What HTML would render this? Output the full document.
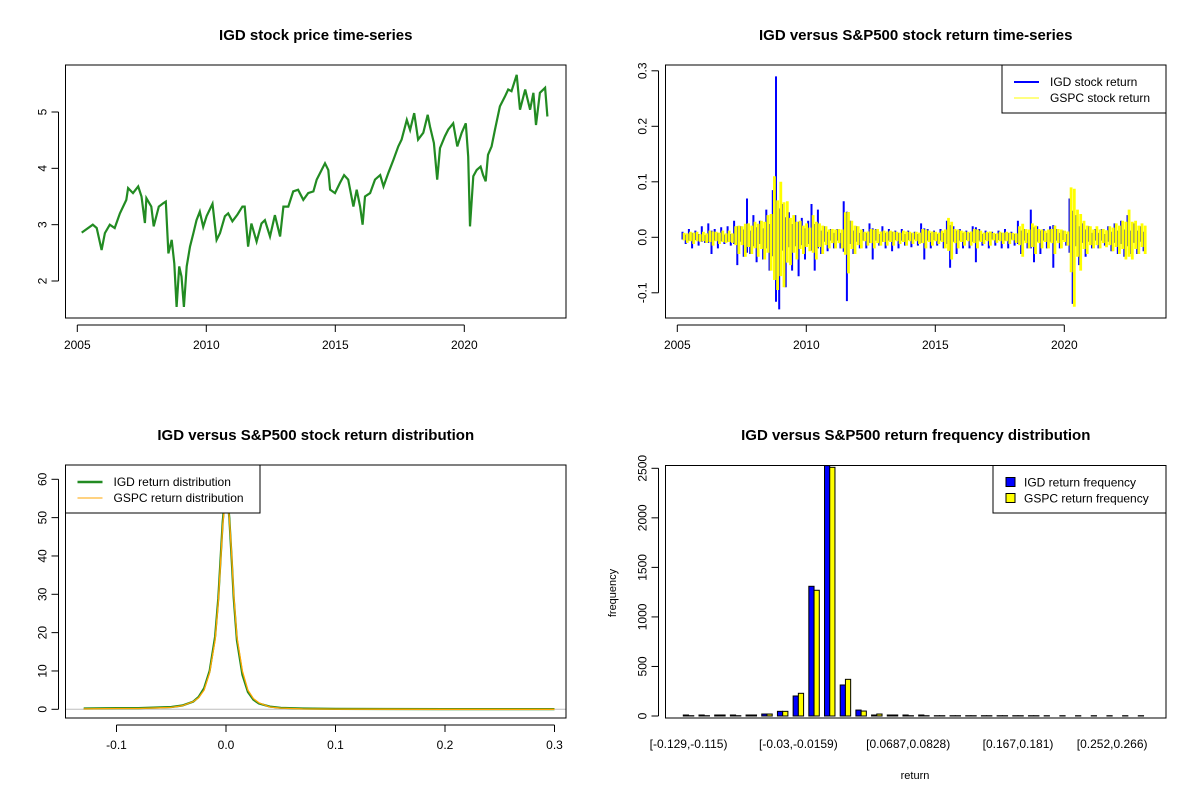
<!DOCTYPE html>
<html><head><meta charset="utf-8"><style>
body{margin:0;background:#fff}
svg{display:block;font-family:"Liberation Sans",Arial,sans-serif}
</style></head><body>
<svg id="c" width="1200" height="800" viewBox="0 0 1200 800"></svg>
<script>
// ---------- data ----------
const priceYears=[2005.17,2005.6,2005.75,2005.94,2006.07,2006.26,2006.45,2006.65,2006.9,2006.97,2007.16,2007.36,2007.49,2007.62,2007.68,2007.87,2007.96,2008.16,2008.33,2008.43,2008.53,2008.66,2008.76,2008.85,2008.95,2009.04,2009.13,2009.24,2009.37,2009.5,2009.62,2009.75,2009.88,2010.01,2010.24,2010.4,2010.53,2010.72,2010.85,2011.01,2011.21,2011.4,2011.49,2011.62,2011.75,2011.95,2012.14,2012.27,2012.47,2012.66,2012.86,2012.99,2013.18,2013.37,2013.56,2013.76,2013.95,2014.15,2014.28,2014.47,2014.6,2014.73,2014.8,2014.99,2015.18,2015.34,2015.5,2015.7,2015.83,2015.96,2016.06,2016.15,2016.35,2016.54,2016.74,2016.87,2017.06,2017.25,2017.44,2017.57,2017.77,2017.9,2018.06,2018.21,2018.41,2018.58,2018.67,2018.82,2018.95,2019.06,2019.25,2019.38,2019.57,2019.73,2019.9,2020.06,2020.15,2020.22,2020.35,2020.48,2020.63,2020.73,2020.83,2020.92,2021.06,2021.19,2021.38,2021.57,2021.7,2021.83,2022.03,2022.16,2022.36,2022.55,2022.68,2022.78,2022.93,2023.13,2023.22];
const priceValues=[2.86,3.0,2.94,2.55,2.85,3.0,2.94,3.2,3.44,3.65,3.56,3.68,3.5,3.03,3.47,3.32,2.97,3.32,3.38,3.41,2.49,2.73,2.31,1.54,2.26,2.08,1.54,2.26,2.61,2.85,3.08,3.23,2.96,3.15,3.37,2.73,2.85,3.15,3.2,3.06,3.18,3.32,3.32,2.61,3.02,2.7,3.02,3.08,2.79,3.17,2.79,3.32,3.32,3.59,3.62,3.44,3.56,3.59,3.8,3.97,4.09,3.97,3.62,3.56,3.74,3.88,3.8,3.32,3.62,3.32,3.0,3.5,3.56,3.8,3.88,3.68,3.92,4.15,4.39,4.51,4.86,4.68,4.98,4.51,4.63,4.95,4.74,4.45,3.8,4.36,4.57,4.69,4.8,4.39,4.63,4.8,4.21,2.97,3.86,3.97,4.03,3.88,3.77,4.24,4.39,4.69,5.1,5.27,5.4,5.37,5.66,5.04,5.4,5.04,5.34,4.77,5.34,5.43,4.92];
const retStart=2005.2, retStep=0.125;
const igdReturns=[0.01,-0.012,0.015,-0.02,0.012,-0.015,0.02,-0.01,
0.025,-0.03,0.015,-0.02,0.018,-0.012,0.02,-0.015,
0.03,-0.05,0.02,-0.035,0.07,-0.03,0.04,-0.045,
0.03,-0.04,0.05,-0.06,0.085,0.29,-0.13,0.06,
-0.09,0.045,-0.06,0.04,-0.07,0.035,-0.04,0.03,
0.06,-0.06,0.05,-0.03,0.02,-0.025,0.015,-0.02,
0.015,-0.02,0.065,-0.115,0.03,-0.03,0.02,-0.02,
0.015,-0.02,0.025,-0.04,0.015,-0.015,0.02,-0.02,
0.015,-0.025,0.012,-0.02,0.015,-0.015,0.012,-0.018,
0.01,-0.015,0.025,-0.04,0.015,-0.02,0.012,-0.015,
0.015,-0.02,0.03,-0.055,0.02,-0.03,0.015,-0.02,
0.012,-0.02,0.02,-0.045,0.015,-0.015,0.012,-0.02,
0.01,-0.015,0.012,-0.02,0.015,-0.02,0.01,-0.015,
0.03,-0.03,0.015,-0.02,0.05,-0.045,0.02,-0.03,
0.015,-0.02,0.02,-0.055,0.015,-0.02,0.012,-0.015,
0.07,-0.12,0.04,-0.05,0.025,-0.035,0.02,-0.02,
0.015,-0.02,0.015,-0.015,0.02,-0.025,0.025,-0.03,
0.03,-0.035,0.04,-0.03,0.025,-0.03,0.02,-0.025];
const gspcReturns=[0.008,-0.01,0.01,-0.012,0.01,-0.008,0.01,-0.01,
0.012,-0.015,0.01,-0.012,0.012,-0.01,0.012,-0.01,
0.02,-0.03,0.02,-0.035,0.025,-0.03,0.028,-0.035,
0.03,-0.04,0.04,-0.06,0.11,-0.095,0.1,-0.09,
0.065,-0.05,0.04,-0.04,0.03,-0.03,0.025,-0.025,
0.04,-0.04,0.025,-0.03,0.02,-0.02,0.015,-0.02,
0.015,-0.02,0.045,-0.065,0.03,-0.03,0.02,-0.02,
0.01,-0.015,0.015,-0.02,0.015,-0.015,0.012,-0.015,
0.012,-0.015,0.01,-0.012,0.012,-0.015,0.01,-0.012,
0.01,-0.012,0.015,-0.02,0.012,-0.015,0.01,-0.012,
0.012,-0.02,0.035,-0.04,0.015,-0.02,0.012,-0.015,
0.01,-0.015,0.015,-0.02,0.012,-0.012,0.01,-0.015,
0.008,-0.01,0.01,-0.012,0.01,-0.012,0.008,-0.01,
0.02,-0.035,0.015,-0.02,0.025,-0.03,0.015,-0.02,
0.012,-0.02,0.015,-0.03,0.015,-0.02,0.012,-0.015,
0.09,-0.125,0.05,-0.06,0.03,-0.03,0.02,-0.02,
0.02,-0.02,0.015,-0.018,0.02,-0.025,0.025,-0.03,
0.03,-0.04,0.05,-0.04,0.03,-0.03,0.025,-0.03];
const densX=[-0.13,-0.1,-0.08,-0.06,-0.05,-0.04,-0.03,-0.025,-0.02,-0.015,-0.01,-0.007,-0.005,-0.003,-0.001,0.001,0.003,0.005,0.007,0.01,0.015,0.02,0.025,0.03,0.04,0.05,0.07,0.1,0.2,0.3];
const igdDens=[0.2,0.3,0.3,0.5,0.6,1.0,2.0,3.2,5.5,10,19,29,39,49,55,56,50,40,29,18,9,4.5,2.5,1.5,0.7,0.4,0.2,0.1,0.05,0.05];
const gspcDens=[0.1,0.2,0.2,0.4,0.5,0.9,2.0,3.0,5.0,9.5,18,28,38,48,54,55,50,41,30,19,10,5,2.8,1.7,0.6,0.3,0.1,0.05,0,0];
const binLabels=["[-0.129,-0.115)","[-0.115,-0.101)","[-0.101,-0.0866)","[-0.0866,-0.0725)","[-0.0725,-0.0584)","[-0.0584,-0.0442)","[-0.0442,-0.03)","[-0.03,-0.0159)","[-0.0159,-0.00176)","[-0.00176,0.0124)","[0.0124,0.0265)","[0.0265,0.0406)","[0.0406,0.0547)","[0.0547,0.0687)","[0.0687,0.0828)","[0.0828,0.0969)","[0.0969,0.111)","[0.111,0.125)","[0.125,0.139)","[0.139,0.153)","[0.153,0.167)","[0.167,0.181)","[0.181,0.195)","[0.195,0.21)","[0.21,0.224)","[0.224,0.238)","[0.238,0.252)","[0.252,0.266)","[0.266,0.28)","[0.28,0.294]"];
const igdFreq=[10,10,10,10,10,20,47,202,1309,2527,313,60,10,10,10,10,3,3,3,3,3,3,3,3,3,3,3,3,3,3];
const gspcFreq=[3,3,10,3,10,20,47,229,1269,2510,370,50,20,10,3,3,3,3,3,3,3,3,3,0,0,0,0,0,0,0];
const shownLabels=[0,7,14,21,27];

// ---------- helpers ----------
const NS="http://www.w3.org/2000/svg", svg=document.getElementById('c');
function el(tag,at,parent){const e=document.createElementNS(NS,tag);for(const k in at)e.setAttribute(k,at[k]);(parent||svg).appendChild(e);return e;}
function txt(s,at,parent){const t=el('text',at,parent);t.textContent=s;return t;}
function lin(a,b,c,d){return (v)=>c+(v-a)*(d-c)/(b-a);}
const TF="12px";

function panel(name,box,title,titleY){
  const g=el('g',{});
  
  
  const t=txt(title,{x:(box[0]+box[2])/2,y:titleY,'text-anchor':'middle','font-size':'15px','font-weight':'bold'},g);
  
  
  return g;
}
function frame(g,box){
  const r=el('rect',{x:box[0],y:box[1],width:box[2]-box[0],height:box[3]-box[1],fill:'none',stroke:'#000','stroke-width':1},g);
  
  
}
function yAxis(g,box,ticks,labels,sy){
  const ax=el('g',{},g);
  
  
  el('line',{x1:box[0]-7,x2:box[0]-7,y1:sy(ticks[0]),y2:sy(ticks[ticks.length-1]),stroke:'#000'},ax);
  ticks.forEach((v,i)=>{
    const y=sy(v);
    el('line',{x1:box[0]-7,x2:box[0]-14,y1:y,y2:y,stroke:'#000'},ax);
    const t=txt(labels[i],{x:box[0]-19,y:y,'text-anchor':'middle','font-size':TF,transform:`rotate(-90 ${box[0]-19} ${y})`},ax);
    
    
  });
}
function xAxis(g,box,ticks,labels,sx){
  const ax=el('g',{},g);
  
  
  const y0=box[3]+7;
  el('line',{x1:sx(ticks[0]),x2:sx(ticks[ticks.length-1]),y1:y0,y2:y0,stroke:'#000'},ax);
  ticks.forEach((v,i)=>{
    const x=sx(v);
    el('line',{x1:x,x2:x,y1:y0,y2:y0+7,stroke:'#000'},ax);
    const t=txt(labels[i],{x:x,y:y0+24,'text-anchor':'middle','font-size':TF},ax);
    
    
  });
}
function legend(g,box,items){
  const lg=el('g',{},g);
  
  
  el('rect',{x:box[0],y:box[1],width:box[2]-box[0],height:box[3]-box[1],fill:'#fff',stroke:'#000'},lg);
  items.forEach((it,i)=>{
    const y=box[1]+17+i*16;
    const e=el('g',{},lg);
    
    
    if(it.sq) el('rect',{x:box[0]+13,y:y-5,width:9,height:9,fill:it.color,stroke:'#000'},e);
    else el('line',{x1:box[0]+12,x2:box[0]+37,y1:y,y2:y,stroke:it.color,'stroke-width':it.w},e);
    txt(it.label,{x:box[0]+(it.sq?31:48),y:y+4,'font-size':TF},e);
  });
}

// ---------- panel 1: price ----------
{
  const box=[65.5,65,566,318];
  const g=panel('price-panel',box,'IGD stock price time-series',40);
  const sx=lin(2005,2010,77.3,206.3), sy=lin(2,5,281,112);
  const pts=priceYears.map((v,i)=>sx(v).toFixed(1)+','+sy(priceValues[i]).toFixed(1)).join(' ');
  const p=el('polyline',{points:pts,fill:'none',stroke:'#228b22','stroke-width':2.2,'stroke-linejoin':'miter'},g);
  
  
  frame(g,box);
  yAxis(g,box,[2,3,4,5],['2','3','4','5'],sy);
  xAxis(g,box,[2005,2010,2015,2020],['2005','2010','2015','2020'],sx);
}
// ---------- panel 2: returns ----------
{
  const box=[665.5,65,1166,318];
  const g=panel('returns-panel',box,'IGD versus S&P500 stock return time-series',40);
  const sx=lin(2005,2010,677.3,806.3), sy=lin(0,0.1,237.3,181.8);
  const spikes=(arr,off,k)=>{
    let d='';
    arr.forEach((v,i)=>{
      const x=(sx(retStart+i*retStep)+off).toFixed(1);
      d+=`M${x},${sy(-v*k).toFixed(1)}V${sy(v).toFixed(1)}`;
    });
    return d;
  };
  const b=el('path',{d:spikes(igdReturns,0,0.4),fill:'none',stroke:'#0000ff','stroke-width':2},g);
  
  
  const yl=el('path',{d:spikes(gspcReturns,1.6,0.7),fill:'none',stroke:'#ffff00','stroke-width':2.8},g);
  
  
  frame(g,box);
  yAxis(g,box,[-0.1,0,0.1,0.2,0.3],['-0.1','0.0','0.1','0.2','0.3'],sy);
  xAxis(g,box,[2005,2010,2015,2020],['2005','2010','2015','2020'],sx);
  legend(g,[1002,65,1166,113],[{label:'IGD stock return',color:'#0000ff',w:2},{label:'GSPC stock return',color:'#ffff00',w:1}]);
}
// ---------- panel 3: density ----------
{
  const box=[65.5,465,566,718];
  const g=panel('density-panel',box,'IGD versus S&P500 stock return distribution',440);
  const sx=lin(0,0.1,226,335.5), sy=lin(0,60,709.3,479.3);
  const base=el('line',{x1:box[0],x2:box[2],y1:sy(0),y2:sy(0),stroke:'#bebebe'},g);
  
  
  const mk=(arr)=>densX.map((v,i)=>sx(v).toFixed(1)+','+sy(arr[i]).toFixed(1)).join(' ');
  const a=el('polyline',{points:mk(igdDens),fill:'none',stroke:'#228b22','stroke-width':2.2},g);
  
  
  const o=el('polyline',{points:mk(gspcDens),fill:'none',stroke:'#ffa500','stroke-width':1.3},g);
  
  
  frame(g,box);
  yAxis(g,box,[0,10,20,30,40,50,60],['0','10','20','30','40','50','60'],sy);
  xAxis(g,box,[-0.1,0,0.1,0.2,0.3],['-0.1','0.0','0.1','0.2','0.3'],sx);
  legend(g,[65.5,465,260,513],[{label:'IGD return distribution',color:'#228b22',w:2.5},{label:'GSPC return distribution',color:'#ffa500',w:1}]);
}
// ---------- panel 4: histogram ----------
{
  const box=[665.5,465.5,1166,718];
  const g=panel('frequency-panel',box,'IGD versus S&P500 return frequency distribution',440);
  const sy=lin(0,2500,716,468.3);
  const bw=5.23, gs=15.69, x0=683.3;
  igdFreq.forEach((v,i)=>{
    const x=x0+i*gs;
    const r1=el('rect',{x:x,y:sy(v),width:bw,height:Math.max(0,sy(0)-sy(v)),fill:'#0000ff',stroke:'#000','stroke-width':1},g);
    
    
    const r2=el('rect',{x:x+bw,y:sy(gspcFreq[i]),width:bw,height:Math.max(0,sy(0)-sy(gspcFreq[i])),fill:'#ffff00',stroke:'#000','stroke-width':1},g);
    
    
  });
  frame(g,box);
  yAxis(g,box,[0,500,1000,1500,2000,2500],['0','500','1000','1500','2000','2500'],sy);
  shownLabels.forEach(i=>{
    const t=txt(binLabels[i],{x:x0+i*gs+bw,y:748,'text-anchor':'middle','font-size':TF},g);
    
    
  });
  const xt=txt('return',{x:915,y:779,'text-anchor':'middle','font-size':'11px'},g);
  
  
  const yt=txt('frequency',{x:616,y:593,'text-anchor':'middle','font-size':'11px',transform:'rotate(-90 616 593)'},g);
  
  
  legend(g,[993,465.5,1166,513],[{label:'IGD return frequency',color:'#0000ff',sq:true},{label:'GSPC return frequency',color:'#ffff00',sq:true}]);
}
</script>
</body></html>
